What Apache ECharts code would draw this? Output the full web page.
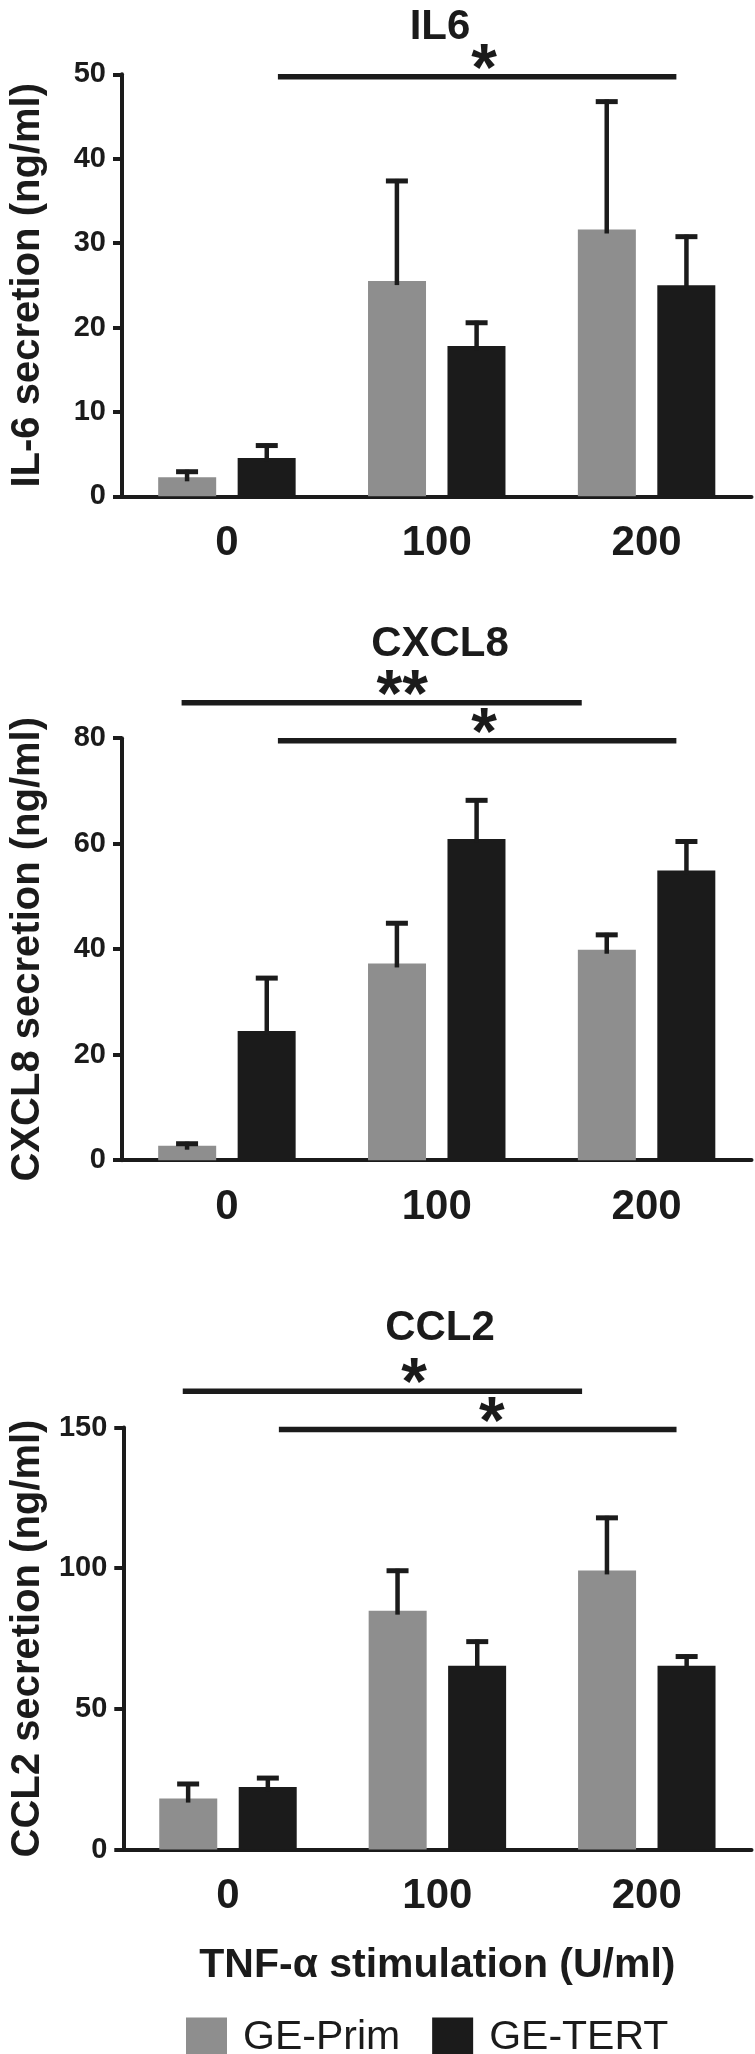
<!DOCTYPE html>
<html>
<head>
<meta charset="utf-8">
<script src="https://cdn.jsdelivr.net/npm/echarts@6/dist/echarts.min.js"></script>
<style>html,body{margin:0;padding:0;background:#fff}#c{width:755px;height:2054px}</style>
</head>
<body>
<div id="c"></div>
<script>
// ---------------- data ----------------
const categories = ['0', '100', '200'];
const seriesNames = ['GE-Prim', 'GE-TERT'];

const il6Prim = [2.25, 25.5, 31.6];
const il6PrimErr = [0.9, 12.1, 15.4];
const il6Tert = [4.55, 17.8, 25.0];
const il6TertErr = [1.7, 3.0, 6.0];

const cxcl8Prim = [2.75, 37.3, 39.9];
const cxcl8PrimErr = [0.75, 8.0, 3.2];
const cxcl8Tert = [24.5, 60.9, 54.9];
const cxcl8TertErr = [10.4, 7.7, 5.9];

const ccl2Prim = [18.1, 84.9, 99.2];
const ccl2PrimErr = [5.9, 14.9, 19.4];
const ccl2Tert = [22.2, 65.3, 65.3];
const ccl2TertErr = [3.9, 9.3, 4.0];

// significance brackets: [from, to (category units from first category), y value, star position, label]
const il6Sig = [[0.243, 2.142, 49.7, 1.226, '*']];
const cxcl8Sig = [[-0.216, 1.691, 86.7, 0.835, '**'], [0.243, 2.142, 79.5, 1.226, '*']];
const ccl2Sig = [[-0.216, 1.691, 162.9, 0.889, '*'], [0.243, 2.142, 149.3, 1.26, '*']];

const panelTitles = ['IL6', 'CXCL8', 'CCL2'];
const yNames = ['IL-6 secretion (ng/ml)', 'CXCL8 secretion (ng/ml)', 'CCL2 secretion (ng/ml)'];
const yMax = [50, 80, 150];
const yInterval = [10, 20, 50];
const xName = 'TNF-\u03b1 stimulation (U/ml)';

// ---------------- style ----------------
const FONT = "'Liberation Sans', Arial, Helvetica, sans-serif";
const INK = '#1b1b1b';
const GRAY = '#8e8e8e';
const BAR_W = 58;
const BAR_OFF = 39.85;
const gridTops = [74.3, 738.2, 1427.5];
const GRID_H = 422;
const titleTops = [0, 617, 1301];
const STAR_SIZE = 66;

const panels = [
  {prim: il6Prim, primErr: il6PrimErr, tert: il6Tert, tertErr: il6TertErr, sig: il6Sig},
  {prim: cxcl8Prim, primErr: cxcl8PrimErr, tert: cxcl8Tert, tertErr: cxcl8TertErr, sig: cxcl8Sig},
  {prim: ccl2Prim, primErr: ccl2PrimErr, tert: ccl2Tert, tertErr: ccl2TertErr, sig: ccl2Sig}
];

function errRender(offset) {
  return function (params, api) {
    const c = api.value(0), m = api.value(1), e = api.value(2);
    const base = api.coord([c, m]);
    const top = api.coord([c, m + e]);
    const x = base[0] + offset;
    const lw = 4.5, cap = 22;
    return {
      type: 'group',
      children: [
        {type: 'line', shape: {x1: x, y1: base[1] + 4, x2: x, y2: top[1]}, style: {stroke: INK, lineWidth: lw}},
        {type: 'line', shape: {x1: x - cap / 2, y1: top[1] + 2, x2: x + cap / 2, y2: top[1] + 2}, style: {stroke: INK, lineWidth: 5}}
      ]
    };
  };
}

function sigRender(params, api) {
  const from = api.value(0), to = api.value(1), y = api.value(2), star = api.value(3);
  const label = api.value(4);
  const o = api.coord([0, y]);
  const bw = api.size([1, 0])[0];
  const x1 = o[0] + from * bw, x2 = o[0] + to * bw, xs = o[0] + star * bw;
  return {
    type: 'group',
    children: [
      {type: 'line', shape: {x1: x1, y1: o[1], x2: x2, y2: o[1]}, style: {stroke: INK, lineWidth: 5.5}},
      {type: 'text', style: {x: xs, y: o[1] - 5, text: label, fill: INK, font: 'bold ' + STAR_SIZE + 'px ' + FONT, textAlign: 'center', textVerticalAlign: 'middle'}}
    ]
  };
}

const grid = [], xAxis = [], yAxis = [], series = [], title = [];
panels.forEach((p, i) => {
  grid.push({left: 115.5, right: 3.5, top: gridTops[i], height: GRID_H});
  title.push({
    text: panelTitles[i], left: 435, top: titleTops[i], textAlign: 'center',
    textStyle: {fontFamily: FONT, fontSize: 42, fontWeight: 'bold', color: INK, lineHeight: 44}
  });
  xAxis.push({
    type: 'category', gridIndex: i, data: categories,
    axisLine: {lineStyle: {color: INK, width: 4}},
    axisTick: {alignWithLabel: true, length: 12, lineStyle: {color: INK, width: 4}},
    axisLabel: {fontFamily: FONT, fontSize: 42, fontWeight: 'bold', color: INK, margin: 26},
    name: i === 2 ? xName : '',
    nameLocation: 'middle', nameGap: 96,
    nameTextStyle: {fontFamily: FONT, fontSize: 41, fontWeight: 'bold', color: INK}
  });
  yAxis.push({
    type: 'value', gridIndex: i, min: 0, max: yMax[i], interval: yInterval[i],
    splitLine: {show: false},
    axisLine: {show: true, lineStyle: {color: INK, width: 4}},
    axisTick: {show: true, length: 9, lineStyle: {color: INK, width: 4}},
    axisLabel: {fontFamily: FONT, fontSize: 29, fontWeight: 'bold', color: INK, margin: 16},
    name: yNames[i], nameLocation: 'middle', nameGap: 74,
    nameTextStyle: {fontFamily: FONT, fontSize: 40, fontWeight: 'bold', color: INK}
  });
  series.push({
    name: seriesNames[0], type: 'bar', xAxisIndex: i, yAxisIndex: i,
    data: p.prim, barWidth: BAR_W, barGap: '37%', itemStyle: {color: GRAY}, z: 2
  });
  series.push({
    name: seriesNames[1], type: 'bar', xAxisIndex: i, yAxisIndex: i,
    data: p.tert, barWidth: BAR_W, barGap: '37%', itemStyle: {color: INK}, z: 2
  });
  series.push({
    name: 'err-prim-' + i, type: 'custom', xAxisIndex: i, yAxisIndex: i, z: 3,
    data: p.prim.map((v, k) => [k, v, p.primErr[k]]), renderItem: errRender(-BAR_OFF)
  });
  series.push({
    name: 'err-tert-' + i, type: 'custom', xAxisIndex: i, yAxisIndex: i, z: 3,
    data: p.tert.map((v, k) => [k, v, p.tertErr[k]]), renderItem: errRender(BAR_OFF)
  });
  series.push({
    name: 'sig-' + i, type: 'custom', xAxisIndex: i, yAxisIndex: i, z: 4, clip: false,
    dimensions: ['from', 'to', 'y', 'star', 'label'],
    encode: {x: 'star', y: 'y'},
    data: p.sig, renderItem: sigRender
  });
});

const chart = echarts.init(document.getElementById('c'), null, {renderer: 'canvas'});
chart.setOption({
  animation: false,
  backgroundColor: '#fff',
  title: title,
  grid: grid,
  xAxis: xAxis,
  yAxis: yAxis,
  legend: {
    data: seriesNames, left: 181, top: 2012, icon: 'rect',
    itemWidth: 41, itemHeight: 40, itemGap: 32,
    textStyle: {fontFamily: FONT, fontSize: 41, color: INK, padding: [0, 0, 0, 11]}
  },
  series: series
});
</script>
</body>
</html>
